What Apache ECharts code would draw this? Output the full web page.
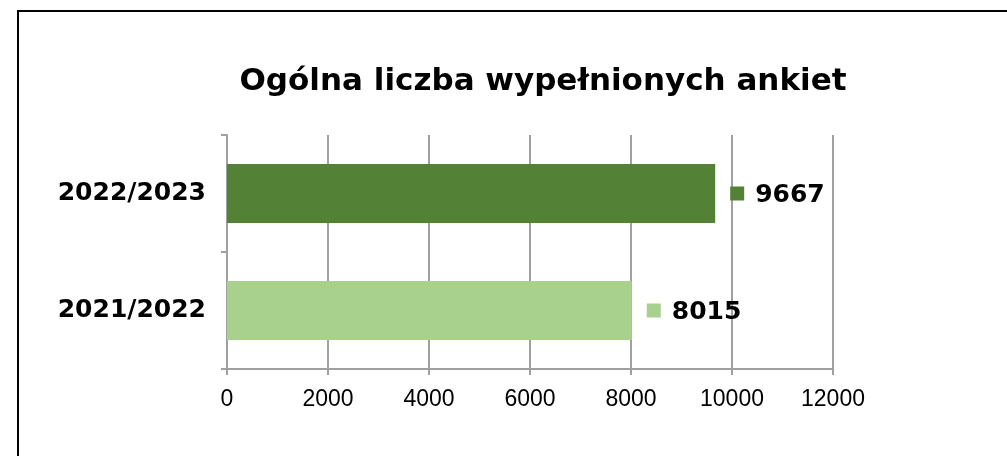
<!DOCTYPE html>
<html>
<head>
<meta charset="utf-8">
<script src="https://cdn.jsdelivr.net/npm/echarts@6/dist/echarts.min.js"></script>
<style>
  html, body { margin: 0; padding: 0; background: #fff; }
  #chart { width: 1007px; height: 456px; }
</style>
</head>
<body>
<div id="chart"></div>
<script>
const categories = ['2021/2022', '2022/2023'];
const values = [8015, 9667];
const barColors = ['#A9D18E', '#538135'];
const xTicks = [0, 2000, 4000, 6000, 8000, 10000, 12000];

const chart = echarts.init(document.getElementById('chart'));

const boldFont = '"DejaVu Sans", Verdana, sans-serif';

// each value label gets a small square in its bar's colour
const rich = {
  v: { fontFamily: boldFont, fontWeight: 'bold', fontSize: 25, color: '#000', padding: [3, 0, 0, 11] },
};
barColors.forEach((c, i) => {
  rich[`sq${i}`] = { width: 14, height: 14, backgroundColor: c };
});

const option = {
  animation: false,
  title: {
    text: 'Ogólna liczba wypełnionych ankiet',
    left: 538,
    textAlign: 'center',
    top: 61,
    textStyle: { fontFamily: boldFont, fontWeight: 'bold', fontSize: 31, color: '#000' },
  },
  graphic: [{
    type: 'rect',
    shape: { x: 18, y: 11, width: 1010, height: 470 },
    style: { fill: 'none', stroke: '#000', lineWidth: 2 },
    silent: true,
  }],
  grid: { left: 227, right: 174, top: 135, bottom: 87, containLabel: false },
  xAxis: {
    type: 'value',
    min: xTicks[0],
    max: xTicks[xTicks.length - 1],
    interval: 2000,
    axisLine: { show: true, lineStyle: { color: '#a0a0a0', width: 2 } },
    axisTick: { show: true, length: 6, lineStyle: { color: '#a0a0a0', width: 2 } },
    splitLine: { show: true, lineStyle: { color: '#a0a0a0', width: 2 } },
    axisLabel: {
      margin: 19,
      formatter: (v) => String(v),
      fontFamily: '"Liberation Sans", Arial, sans-serif',
      fontSize: 23,
      color: '#000',
    },
  },
  yAxis: {
    type: 'category',
    data: categories,
    axisLine: { show: true, lineStyle: { color: '#a0a0a0', width: 2 } },
    axisTick: { show: true, length: 6, lineStyle: { color: '#a0a0a0', width: 2 } },
    axisLabel: {
      margin: 21,
      fontFamily: boldFont,
      fontWeight: 'bold',
      fontSize: 25,
      color: '#000',
    },
  },
  series: [{
    type: 'bar',
    data: values.map((v, i) => ({ value: v, itemStyle: { color: barColors[i] } })),
    barWidth: 59,
    label: {
      show: true,
      position: 'right',
      distance: 15,
      formatter: (p) => `{sq${p.dataIndex}|}{v|${p.value}}`,
      rich,
    },
  }],
};

chart.setOption(option);
</script>
</body>
</html>
